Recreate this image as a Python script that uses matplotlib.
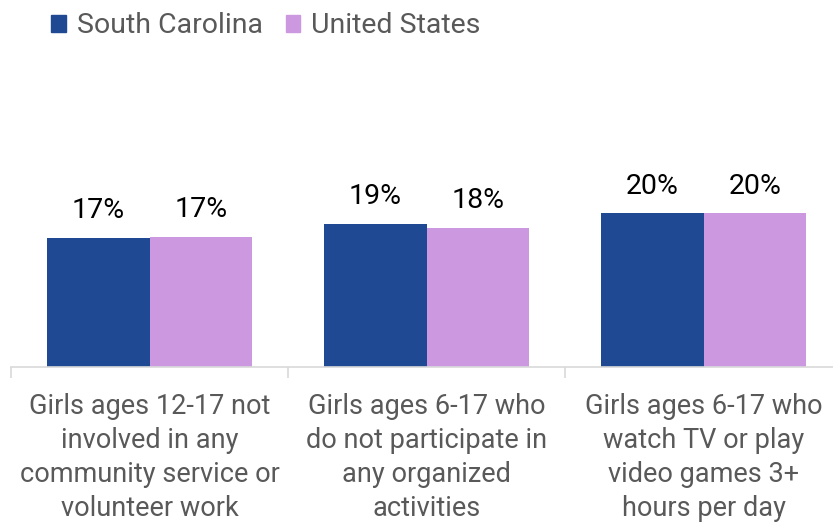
import matplotlib.pyplot as plt
import numpy as np
from matplotlib.patches import Patch

plt.rcParams['font.family'] = ['Roboto', 'DejaVu Sans']

categories = [
    "Girls ages 12-17 not\ninvolved in any\ncommunity service or\nvolunteer work",
    "Girls ages 6-17 who\ndo not participate in\nany organized\nactivities",
    "Girls ages 6-17 who\nwatch TV or play\nvideo games 3+\nhours per day",
]
south_carolina = [17.0, 18.8, 20.2]
united_states = [17.1, 18.3, 20.2]
series_names = ["South Carolina", "United States"]

sc_color = '#1f4a93'
us_color = '#cc99e0'
gray = '#595959'

fig = plt.figure(figsize=(8.33, 5.25), dpi=100)
ax = fig.add_axes([11 / 833, 158 / 525, 831 / 833, 304 / 525])

x = np.arange(len(categories))
w = 0.37
b1 = ax.bar(x - w / 2, south_carolina, w, color=sc_color)
b2 = ax.bar(x + w / 2, united_states, w, color=us_color)

for bars, vals in [(b1, south_carolina), (b2, united_states)]:
    for bar, v in zip(bars, vals):
        ax.text(bar.get_x() + bar.get_width() / 2, v + 2.6, f"{v:.0f}%",
                ha='center', va='baseline', fontsize=20.5, color='black')

ax.set_xlim(-0.5, 2.5)
ax.set_ylim(0, 40)
ax.set_yticks([])
for s in ['top', 'right', 'left']:
    ax.spines[s].set_visible(False)
ax.spines['bottom'].set_color('#d9d9d9')
ax.spines['bottom'].set_linewidth(1.2)

ax.set_xticks(x)
ax.set_xticklabels(categories, fontsize=19.5, color=gray, linespacing=1.32)
ax.tick_params(axis='x', which='major', length=0, pad=19)
ax.set_xticks([-0.5, 0.5, 1.5, 2.5], minor=True)
ax.tick_params(axis='x', which='minor', length=8, color='#d9d9d9', width=1.2)

handles = [Patch(color=sc_color), Patch(color=us_color)]
fig.legend(handles, series_names, loc='upper left', bbox_to_anchor=(0.031, 1.025),
           ncol=2, frameon=False, fontsize=20.5, labelcolor=gray,
           handlelength=0.5, handleheight=0.5, handletextpad=0.4, columnspacing=0.8)

fig.savefig('out.png', dpi=100)
